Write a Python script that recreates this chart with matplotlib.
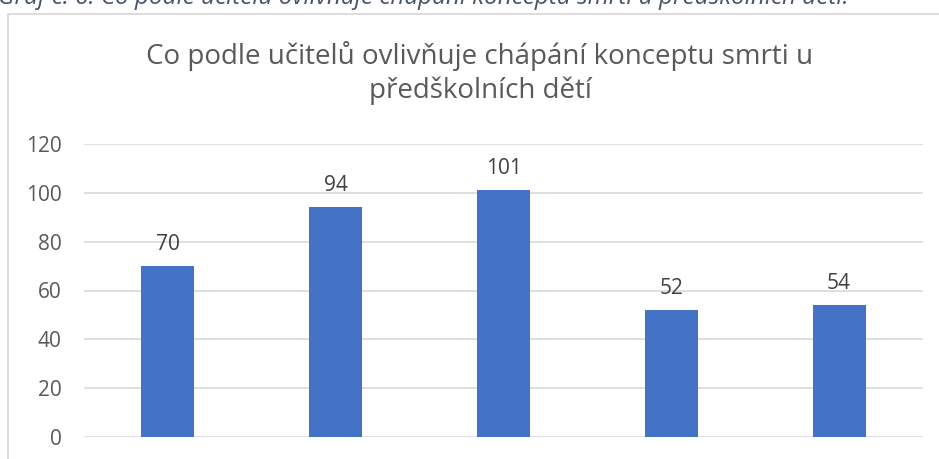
from matplotlib import pyplot as plt
from matplotlib.patches import Rectangle

# data
categories = ["A", "B", "C", "D", "E"]
values = [70, 94, 101, 52, 54]
yticks = [0, 20, 40, 60, 80, 100, 120]

title = "Co podle učitelů ovlivňuje chápání konceptu smrti u\npředškolních dětí"
caption = "Graf č. 6: Co podle učitelů ovlivňuje chápání konceptu smrti u předškolních dětí."

plt.rcParams['font.family'] = ['Open Sans', 'DejaVu Sans']

W, H = 939, 459
fig = plt.figure(figsize=(W / 100, H / 100), dpi=100)

# plot area in pixels: x 84..923, y(0)=437, y(120)=144
ax = fig.add_axes([84 / W, 1 - 437 / H, 839 / W, (437 - 144) / H])

x = range(len(categories))
ax.bar(x, values, width=0.315, color="#4472C4", zorder=3)
for xi, v in zip(x, values):
    ax.annotate(str(v), (xi, v), xytext=(0, 8), textcoords="offset points",
                ha="center", va="bottom", fontsize=15, color="#404040")

ax.set_xlim(-0.5, len(categories) - 0.5)
ax.set_ylim(0, 120)
ax.set_yticks(yticks)
ax.set_xticks([])
ax.yaxis.grid(True, color="#D9D9D9", linewidth=1.2, zorder=0)
ax.tick_params(axis="y", length=0, pad=16, labelsize=15, labelcolor="#595959")
for s in ax.spines.values():
    s.set_visible(False)

# chart border (cut off right and bottom)
fig.patches.append(Rectangle((8 / W, -0.1), 1.2, 1.1 - 14 / H,
                             transform=fig.transFigure, fill=False,
                             edgecolor="#D9D9D9", linewidth=1.3))

fig.text(480 / W, 1 - 98 / H, title, ha="center", va="baseline",
         fontsize=20, color="#595959", linespacing=1.24)

fig.text(-2 / W, 1 - 4 / H, caption, ha="left", va="baseline",
         fontsize=17.5, style="italic", color="#44546A")

plt.savefig("out.png", dpi=100)
